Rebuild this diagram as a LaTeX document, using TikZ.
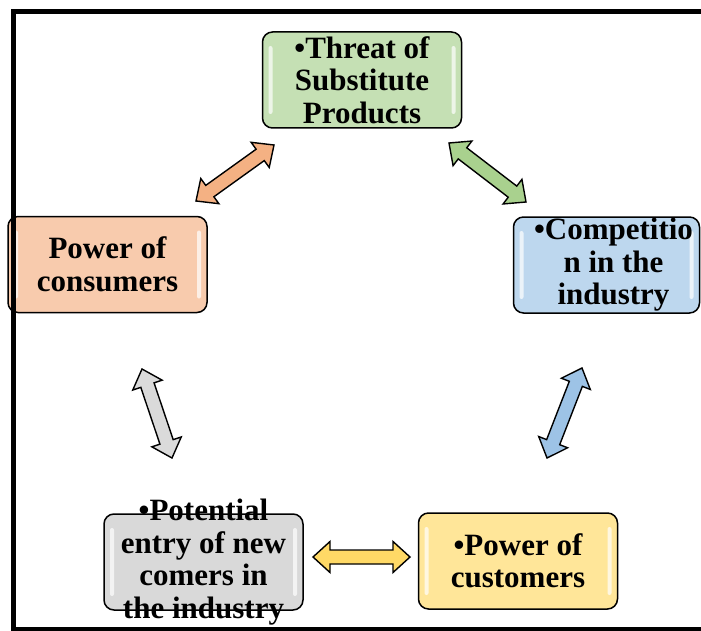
\documentclass[tikz,border=0pt]{standalone}
\usepackage{fontspec}
\setmainfont{Liberation Serif}
\usetikzlibrary{calc}

\definecolor{threatfill}{HTML}{C5E0B4}
\definecolor{threatarrow}{HTML}{A9D18E}
\definecolor{consumerfill}{HTML}{F8CBAD}
\definecolor{consumerarrow}{HTML}{F4B183}
\definecolor{competefill}{HTML}{BDD7EE}
\definecolor{competearrow}{HTML}{9DC3E6}
\definecolor{entryfill}{HTML}{D9D9D9}
\definecolor{entryarrow}{HTML}{DADADA}
\definecolor{customerfill}{HTML}{FFE699}
\definecolor{customerarrow}{HTML}{FFD966}

\newcommand{\headlen}{17pt}
\newcommand{\headhalf}{15.5pt}
\newcommand{\shafthalf}{7pt}

\tikzset{
  forcebox/.style={draw=black, line width=1.5pt, rounded corners=10pt,
    minimum width=199pt, minimum height=96pt, inner sep=0pt,
    path picture={
      \fill[white, opacity=.7, rounded corners=2pt]
        ([xshift=6pt,yshift=-14pt]path picture bounding box.north west) rectangle
        ([xshift=10pt,yshift=14pt]path picture bounding box.south west);
      \fill[white, opacity=.7, rounded corners=2pt]
        ([xshift=-6pt,yshift=-14pt]path picture bounding box.north east) rectangle
        ([xshift=-10pt,yshift=14pt]path picture bounding box.south east);
    }},
  forcelabel/.style={align=center, inner sep=0pt,
    font=\bfseries\fontsize{31}{32.5}\selectfont},
  twoway/.style={draw=black, line width=1.4pt, line join=miter,
    to path={
      -- ($($(\tikztostart)!\headlen!(\tikztotarget)$)!\headhalf!90:(\tikztotarget)$)
      -- ($($(\tikztostart)!\headlen!(\tikztotarget)$)!\shafthalf!90:(\tikztotarget)$)
      -- ($($(\tikztotarget)!\headlen!(\tikztostart)$)!\shafthalf!-90:(\tikztostart)$)
      -- ($($(\tikztotarget)!\headlen!(\tikztostart)$)!\headhalf!-90:(\tikztostart)$)
      -- (\tikztotarget)
      -- ($($(\tikztotarget)!\headlen!(\tikztostart)$)!\headhalf!90:(\tikztostart)$)
      -- ($($(\tikztotarget)!\headlen!(\tikztostart)$)!\shafthalf!90:(\tikztostart)$)
      -- ($($(\tikztostart)!\headlen!(\tikztotarget)$)!\shafthalf!-90:(\tikztotarget)$)
      -- ($($(\tikztostart)!\headlen!(\tikztotarget)$)!\headhalf!-90:(\tikztotarget)$)
      -- cycle}}
}

\begin{document}
\begin{tikzpicture}[x=1pt, y=-1pt]
  \useasboundingbox (0,0) rectangle (701,631);

  % arrow ends
  \coordinate (ct1) at (196,201);
  \coordinate (ct2) at (274,145);
  \coordinate (tc1) at (449,143);
  \coordinate (tc2) at (526,202);
  \coordinate (ce1) at (142,369);
  \coordinate (ce2) at (172,458);
  \coordinate (cc1) at (582,368);
  \coordinate (cc2) at (547,458);
  \coordinate (ec1) at (313,557);
  \coordinate (ec2) at (410,557);

  \path[twoway]
    (ct1) edge [fill=consumerarrow] (ct2)
    (tc1) edge [fill=threatarrow]   (tc2)
    (ce1) edge [fill=entryarrow]    (ce2)
    (cc1) edge [fill=competearrow]  (cc2)
    (ec1) edge [fill=customerarrow] (ec2)
  ;

  \node[forcebox, fill=threatfill,
        label={[forcelabel]center:{•Threat of\\Substitute\\Products}}] (threat) at (362,80) {};
  \node[forcebox, fill=consumerfill,
        label={[forcelabel]center:{Power of\\consumers}}] (consumers) at (107.5,264.5) {};
  \node[forcebox, fill=competefill, minimum width=186pt,
        label={[forcelabel, xshift=7pt]center:{•Competitio\\n in the\\industry}}] (competition) at (606.5,265) {};
  \node[forcebox, fill=entryfill,
        label={[forcelabel]center:{•Potential\\entry of new\\comers in\\the industry}}] (entry) at (203.5,562) {};
  \node[forcebox, fill=customerfill,
        label={[forcelabel]center:{•Power of\\customers}}] (customers) at (518,561) {};

  % frame
  \draw[line width=5pt] (701,11.5) -- (13,11.5) -- (13,629.5) -- (701,629.5);
\end{tikzpicture}
\end{document}
